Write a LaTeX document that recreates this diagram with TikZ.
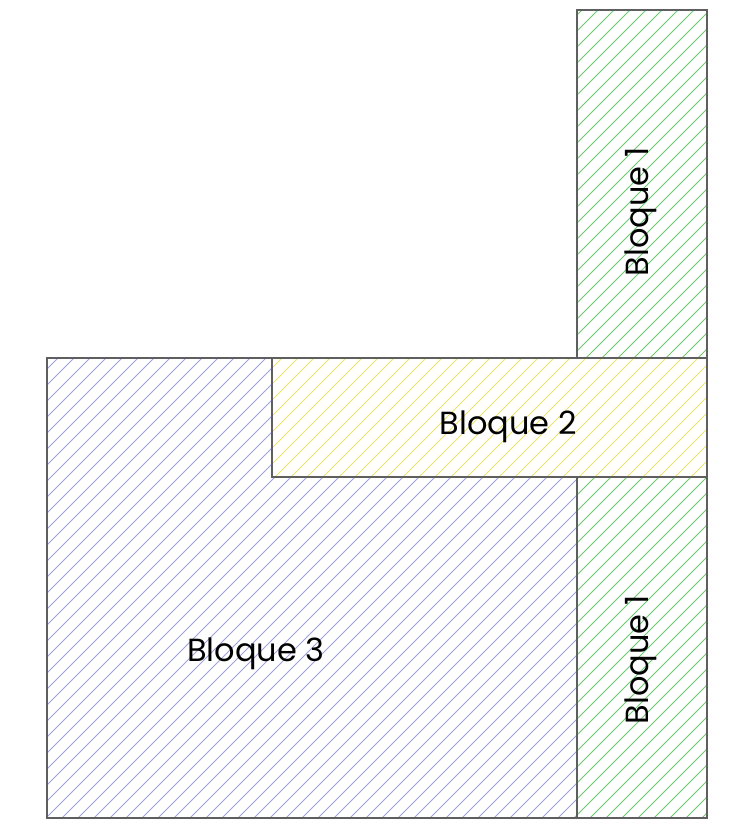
\documentclass[tikz,border=0pt]{standalone}
\usepackage{fontspec}
\setmainfont{Poppins}
\definecolor{hgreen}{RGB}{110,200,110}
\definecolor{hblue}{RGB}{160,160,220}
\definecolor{hyellow}{RGB}{236,228,110}
\definecolor{edge}{RGB}{95,95,95}
\tikzset{
  lbl/.style={font=\fontsize{32}{36}\selectfont, text=black, inner sep=0pt},
  edgeline/.style={draw=edge, line width=1.3pt},
}
\newcommand{\hatchlines}[1]{%
  \foreach \c in {0,16,...,1600} {\draw[#1, line width=1pt] (\c-900,900) -- (\c+100,-100);}}
\begin{document}
\begin{tikzpicture}[x=1pt,y=-1pt]
\useasboundingbox (0,0) rectangle (731,824);
% Block 3 (L shape)
\begin{scope}
\clip (47,358) -- (272,358) -- (272,477) -- (577,477) -- (577,818) -- (47,818) -- cycle;
\hatchlines{hblue}
\end{scope}
% Block 2
\begin{scope}
\clip (272,358) rectangle (707,477);
\hatchlines{hyellow}
\end{scope}
% Block 1 top
\begin{scope}
\clip (577,10) rectangle (707,358);
\hatchlines{hgreen}
\end{scope}
% Block 1 bottom
\begin{scope}
\clip (577,477) rectangle (707,818);
\hatchlines{hgreen}
\end{scope}
\draw[edgeline] (47,358) -- (272,358) -- (272,477) -- (577,477) -- (577,818) -- (47,818) -- cycle;
\draw[edgeline] (272,358) rectangle (707,477);
\draw[edgeline] (577,10) rectangle (707,358);
\draw[edgeline] (577,477) rectangle (707,818);
\node[lbl] (b2) at (508,427) {Bloque 2};
\node[lbl] (b3) at (256,654) {Bloque 3};
\node[lbl, rotate=90] (b1t) at (641,212) {Bloque 1};
\node[lbl, rotate=90] (b1b) at (641,660) {Bloque 1};
\end{tikzpicture}
\end{document}
